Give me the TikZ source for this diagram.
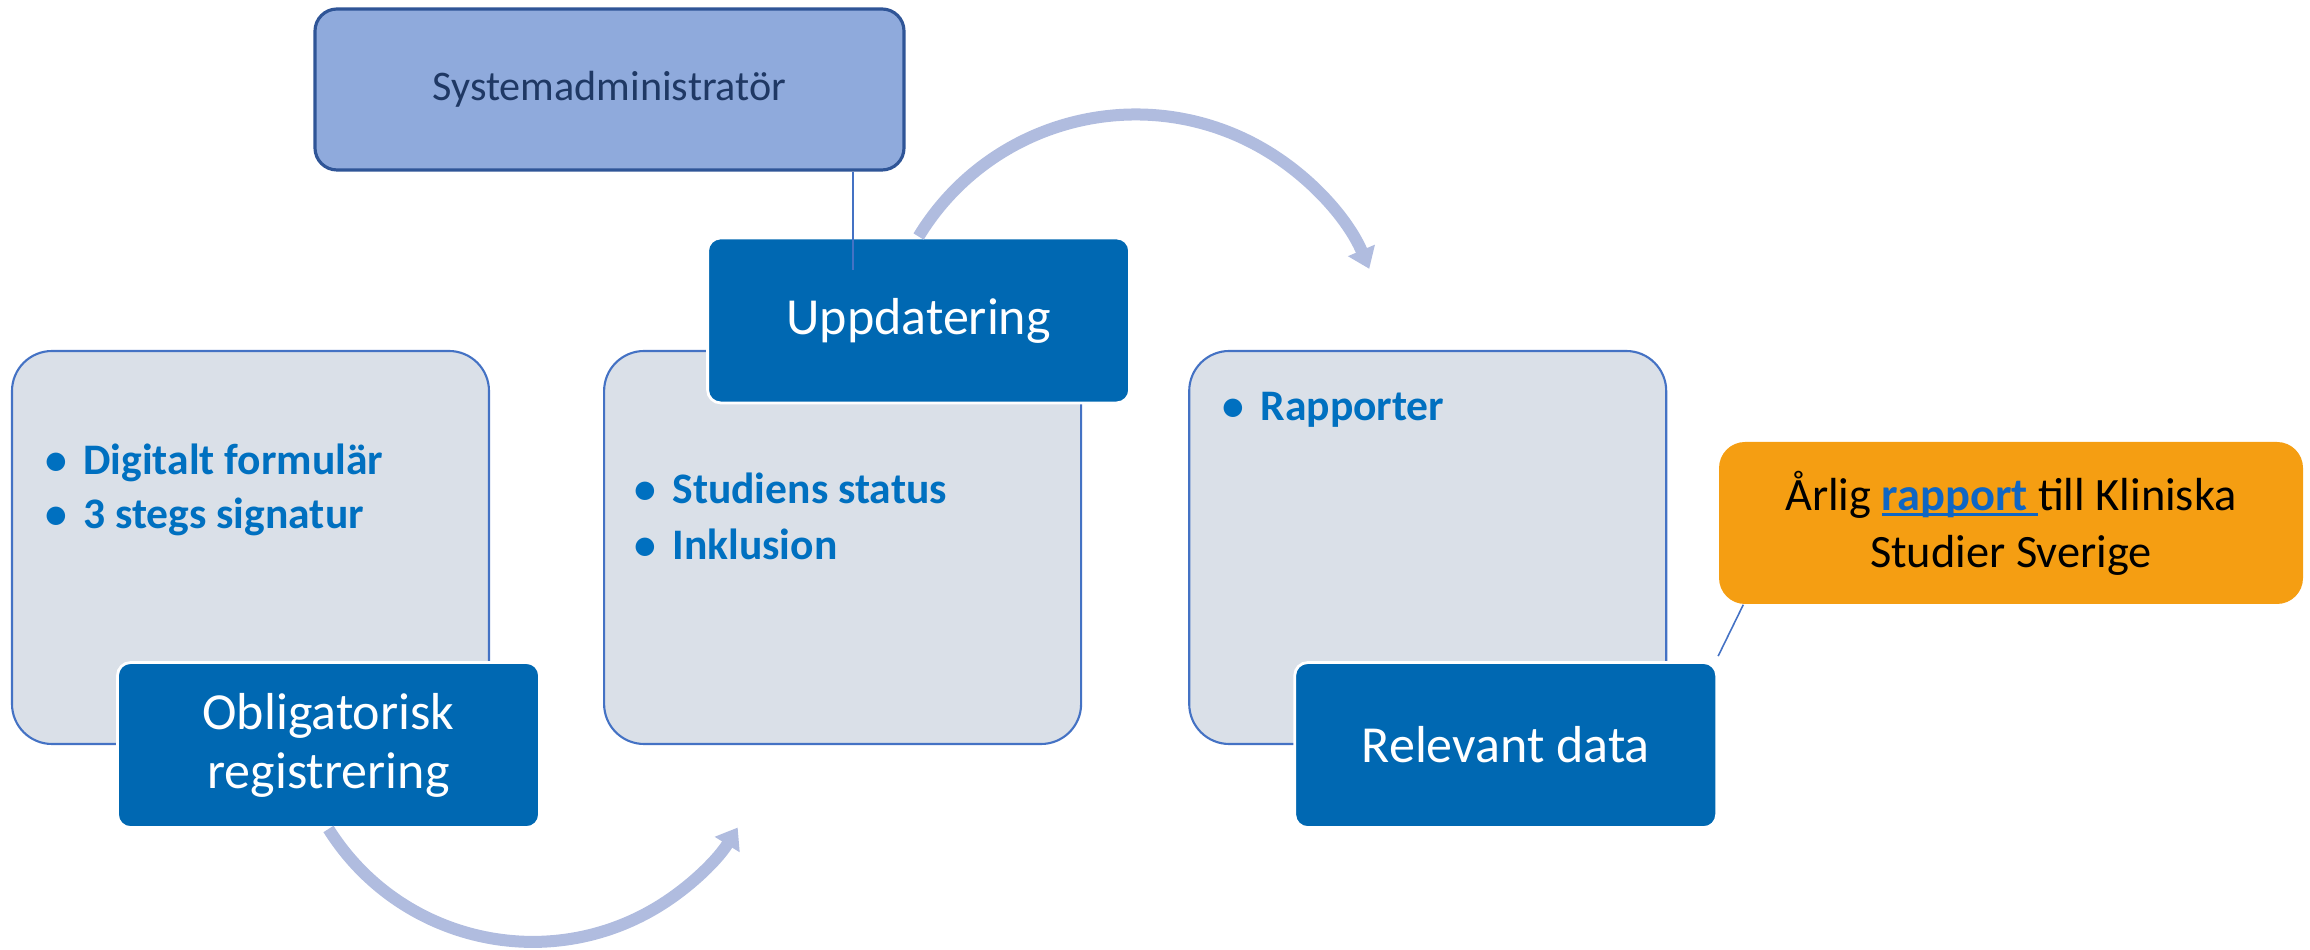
\documentclass[tikz,border=0pt]{standalone}
\usepackage{fontspec}
\setmainfont{Carlito}
\usetikzlibrary{positioning,arrows.meta,calc}

\definecolor{sysfill}{HTML}{8FAADC}
\definecolor{sysline}{HTML}{2F5597}
\definecolor{systext}{HTML}{1F3864}
\definecolor{stepblue}{HTML}{0068B2}
\definecolor{panelfill}{HTML}{DAE0E8}
\definecolor{panelline}{HTML}{4472C4}
\definecolor{itemblue}{HTML}{0070C0}
\definecolor{notefill}{HTML}{F59E12}
\definecolor{cyclearc}{HTML}{B0BCDF}
\definecolor{linkblue}{HTML}{0F66C4}

\newcommand{\linkword}[1]{\setbox0\hbox{\textcolor{linkblue}{\bfseries #1}\ }%
  \rlap{\textcolor{linkblue}{\rule[-0.6mm]{\wd0}{0.27mm}}}\box0}
\newcommand{\bul}{\textbullet\hspace{1.6mm}}

\begin{document}
\begin{tikzpicture}[x=0.1mm, y=-0.1mm,
  sysbox/.style={draw=sysline, line width=0.9pt, fill=sysfill, rounded corners=2.2mm,
    minimum width=58.9mm, minimum height=16.1mm, inner sep=0pt, text=systext,
    font=\fontsize{12}{14}\selectfont},
  panel/.style={draw=panelline, line width=0.6pt, fill=panelfill, rounded corners=4mm,
    minimum width=47.7mm, minimum height=39.3mm, inner sep=0pt},
  stepbox/.style={draw=white, line width=0.8pt, fill=stepblue, rounded corners=1.3mm,
    minimum width=42.2mm, minimum height=16.5mm, inner sep=0pt, text=white,
    align=center, font=\fontsize{14.8}{16.8}\selectfont},
  notebox/.style={fill=notefill, rounded corners=2.6mm, minimum width=58.4mm,
    minimum height=16.2mm, inner sep=0pt, align=center, text=black,
    font=\fontsize{13.2}{16.2}\selectfont},
  bulletline/.style={anchor=base west, inner sep=0pt, text=itemblue,
    font=\bfseries\fontsize{12.4}{15}\selectfont},
  tie/.style={draw=panelline, line width=0.45pt},
  cyclearrow/.style={draw=cyclearc, line width=1.2mm,
    -{Triangle[length=2mm, width=2.8mm]}}
]

  \useasboundingbox (0,0) rectangle (2310,950);

  % panels
  \node[panel] (g1) at (250.5,547.5) {};
  \node[panel] (g2) [right=11.3mm of g1] {};
  \node[panel] (g3) [right=10.6mm of g2] {};

  \node[bulletline] (d1) at ($(g1.north west)+(34,125)$) {\bul Digitalt formulär};
  \node[bulletline] (d2) at ($(g1.north west)+(34,179)$) {\bul 3 stegs signatur};
  \node[bulletline] (s1) at ($(g2.north west)+(31,154)$) {\bul Studiens status};
  \node[bulletline] (s2) at ($(g2.north west)+(31,210)$) {\bul Inklusion};
  \node[bulletline] (r1) at ($(g3.north west)+(34,71)$) {\bul Rapporter};

  % steps
  \node[stepbox, xshift=7.8mm] (oblig) at (g1.south) {Obligatorisk\\registrering};
  \node[stepbox, xshift=7.6mm, yshift=2.95mm] (upd) at (g2.north) {Uppdatering};
  \node[stepbox, xshift=7.8mm] (rel) at (g3.south) {Relevant data};

  \node[sysbox] (sys) at (609.5,89.5) {Systemadministratör};
  \node[notebox] (note) at (2011,523) {Årlig \linkword{rapport}till Kliniska\\Studier Sverige};

  % ties
  \coordinate (tap) at (853,270);
  \draw[tie] (sys.south -| tap) -- (tap);
  \draw[tie] ([xshift=2.5mm]note.south west) -- ([yshift=0.5mm]rel.north east);

  % cycle arrows
  \draw[cyclearrow] (upd.north) arc[start angle=-148.7, end angle=-23.1, radius=254];
  \draw[cyclearrow] (oblig.south) arc[start angle=147.9, end angle=31.7, radius=241];

\end{tikzpicture}
\end{document}
